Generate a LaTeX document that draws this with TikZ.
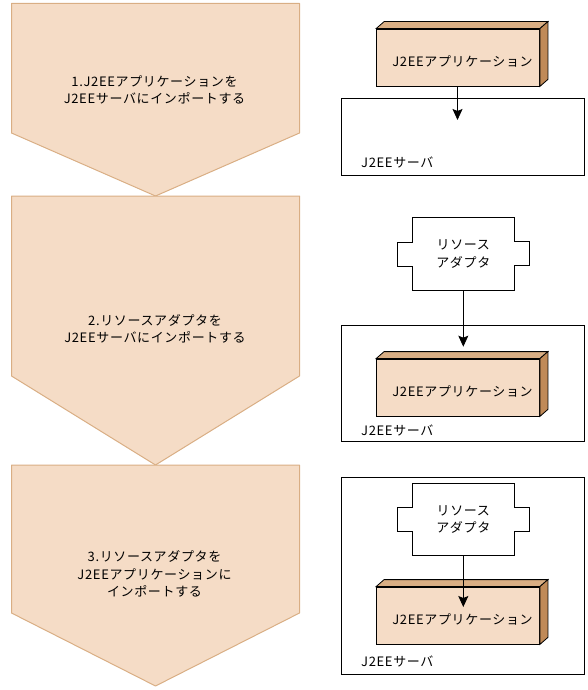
\documentclass[tikz,border=0pt]{standalone}
\usepackage{fontspec}
\setmainfont[LetterSpace=5]{Noto Sans CJK JP}
\usepackage{xcolor}
\usetikzlibrary{arrows.meta,positioning,calc}
\definecolor{StepFill}{RGB}{245,220,198}
\definecolor{StepEdge}{RGB}{217,174,132}
\definecolor{BoxSide}{RGB}{192,138,88}
\begin{document}
\begin{tikzpicture}[
        x=1pt,y=-1pt,
        chev/.style={draw=StepEdge,fill=StepFill,line width=1pt,line join=round},
        steptext/.style={font=\fontsize{13}{17.5}\selectfont,text=black,align=center,inner sep=0pt},
        server/.style={draw=black,fill=white,line width=0.8pt,minimum width=243pt,inner sep=0pt},
        appbox/.style={draw=black,fill=StepFill,line width=0.8pt,minimum width=163pt,minimum height=57pt,inner sep=0pt},
        adapter/.style={minimum width=101.5pt,minimum height=72pt,inner sep=0pt,
                    font=\fontsize{13}{17.5}\selectfont,align=center},
        boxtext/.style={font=\fontsize{13}{15}\selectfont,inner sep=0pt},
        arr/.style={-{Stealth[length=11pt,width=10pt,inset=2pt]},line width=0.8pt,color=black}
      ]
        \useasboundingbox (0,0) rectangle (587,690);
        % left column
        \draw[chev] (11.5,3.5)--(299.5,3.5)--(299.5,133)--(155.5,196)--(11.5,133)--cycle;
        \draw[chev] (11.5,196)--(299.5,196)--(299.5,376)--(155.5,465)--(11.5,376)--cycle;
        \draw[chev] (11.5,465)--(299.5,465)--(299.5,613)--(155.5,686)--(11.5,613)--cycle;
        \node[steptext] (S1) at (154.5,90) {1.J2EEアプリケーションを\\J2EEサーバにインポートする};
        \node[steptext] (S2) at (155,329) {2.リソースアダプタを\\J2EEサーバにインポートする};
        \node[steptext] (S3) at (154.5,574) {3.リソースアダプタを\\J2EEアプリケーションに\\インポートする};
        % right column
        \node[server,minimum height=77pt] (J1) at (463,136.5) {};
        \node[server,minimum height=116pt] (J2) at (463,383) {};
        \node[server,minimum height=197pt] (J3) at (463,575.5) {};
        \node[boxtext,anchor=west] (L1) at (361,162) {J2EEサーバ};
        \node[boxtext,anchor=west] (L2) at (361,430) {J2EEサーバ};
        \node[boxtext,anchor=west] (L3) at (361,661) {J2EEサーバ};
        \node[appbox] (A1) at (458,57.5) {};
        \node[appbox] (A2) at (458,387.5) {};
        \node[appbox] (A3) at (458,615.5) {};
        \foreach \n in {A1,A2,A3}{
          \draw[fill=StepEdge,line width=0.8pt] (\n.north west)--++(8,-7)--($(\n.north east)+(8,-7)$)--(\n.north east)--cycle;
          \draw[fill=BoxSide,line width=0.8pt] (\n.north east)--++(8,-7)--($(\n.south east)+(8,-7)$)--(\n.south east)--cycle;
          \node[boxtext] at ([xshift=4.5pt,yshift=-3.5pt]\n.center) {J2EEアプリケーション};
        }
        \node[adapter] (R2) at (463.3,254) {リソース\\アダプタ};
        \node[adapter] (R3) at (463.3,519.5) {リソース\\アダプタ};
        \foreach \n in {R2,R3}{
          \draw[line width=0.8pt] (\n.north west)--(\n.north east)--++(0,24)--++(15,0)--++(0,24)--++(-15,0)
            --(\n.south east)--(\n.south west)--++(0,-24)--++(-15,0)--++(0,-24)--++(15,0)--cycle;
        }
        \coordinate (T1) at (457.5,120);
        \coordinate (T2) at (463.3,346.7);
        \coordinate (T3) at (463.3,607);
        \draw[arr] (A1.south-|T1)--(T1);
        \draw[arr] (R2.south)--(T2);
        \draw[arr] (R3.south)--(T3);
      \end{tikzpicture}
\end{document}
